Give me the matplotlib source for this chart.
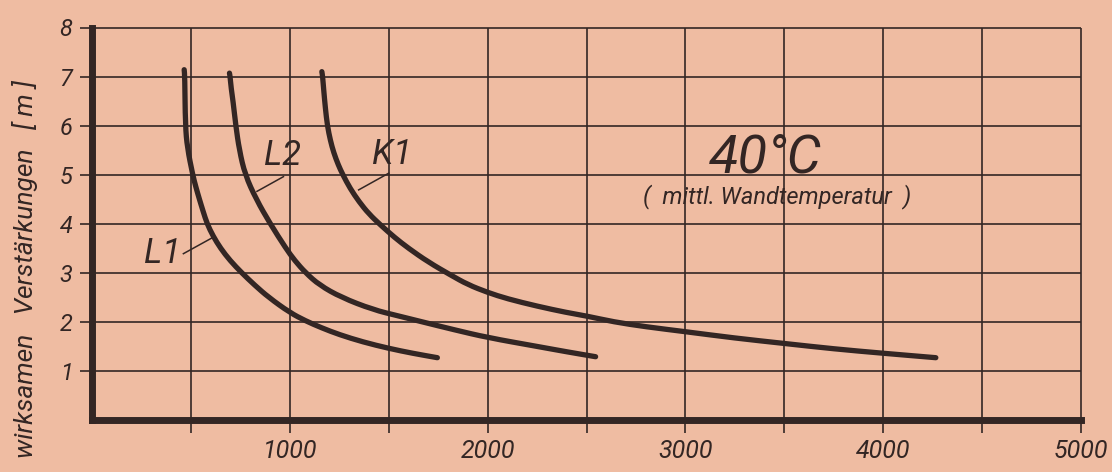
import matplotlib.pyplot as plt
from matplotlib.path import Path
from matplotlib.patches import PathPatch

plt.rcParams['font.family'] = ['Roboto', 'DejaVu Sans']
plt.rcParams['font.style'] = 'italic'

PAPER = '#efbca2'
INK = '#332624'

# curves: length of effective reinforcement [m] over x
l1_x = [466, 469, 472, 482, 509, 525, 543, 562, 582, 612, 650, 698, 757, 822, 893,
        1000, 1080, 1160, 1250, 1370, 1500, 1620, 1746]
l1_y = [7.14, 7.0, 6.0, 5.55, 5.0, 4.75, 4.5, 4.25, 4.0, 3.75, 3.5, 3.25, 3.0, 2.75, 2.5,
        2.19, 2.02, 1.88, 1.74, 1.59, 1.46, 1.36, 1.27]

l2_x = [695, 698, 704, 713, 727, 745, 774, 830, 901, 980, 1025, 1080, 1150, 1260,
        1420, 1550, 1670, 1830, 2000, 2250, 2400, 2546]
l2_y = [7.07, 7.0, 6.75, 6.5, 6.0, 5.5, 5.0, 4.5, 4.0, 3.5, 3.25, 3.0, 2.75, 2.5,
        2.25, 2.12, 2.0, 1.84, 1.68, 1.5, 1.39, 1.29]

k1_x = [1162, 1166, 1172, 1180, 1190, 1205, 1222, 1245, 1268, 1305, 1350, 1400,
        1460, 1530, 1600, 1700, 1815, 1900, 2000, 2100, 2250, 2400, 2500, 2637,
        2800, 3000, 3250, 3500, 3750, 4000, 4266]
k1_y = [7.1, 7.0, 6.7, 6.35, 6.0, 5.7, 5.45, 5.2, 5.0, 4.72, 4.45, 4.2,
        3.97, 3.72, 3.5, 3.22, 2.95, 2.76, 2.6, 2.47, 2.32, 2.19, 2.12, 2.0,
        1.9, 1.8, 1.67, 1.56, 1.45, 1.36, 1.27]

x_ticks = [500, 1000, 1500, 2000, 2500, 3000, 3500, 4000, 4500, 5000]
x_labels = ['', '1000', '', '2000', '', '3000', '', '4000', '', '5000']
y_ticks = [1, 2, 3, 4, 5, 6, 7, 8]
y_labels = ['1', '2', '3', '4', '5', '6', '7', '8']


def smooth_curve(xs, ys):
    # quadratic spline: each read point is a control point, joined through midpoints
    pts = list(zip(xs, ys))
    verts = [pts[0]]
    codes = [Path.MOVETO]
    mid = ((pts[0][0] + pts[1][0]) / 2, (pts[0][1] + pts[1][1]) / 2)
    verts.append(mid)
    codes.append(Path.LINETO)
    for i in range(1, len(pts) - 1):
        nxt = ((pts[i][0] + pts[i + 1][0]) / 2, (pts[i][1] + pts[i + 1][1]) / 2)
        verts += [pts[i], nxt]
        codes += [Path.CURVE3, Path.CURVE3]
    verts.append(pts[-1])
    codes.append(Path.LINETO)
    return Path(verts, codes)


fig = plt.figure(figsize=(11.12, 4.72), dpi=100, facecolor=PAPER)
ax = fig.add_axes([92 / 1112, 1 - 420 / 472, (1081 - 92) / 1112, (420 - 27.5) / 472])
ax.set_facecolor(PAPER)
ax.set_xlim(0, 5000)
ax.set_ylim(0, 8)

# grid drawn by hand so the edge lines are not clipped
ax.vlines(x_ticks, 0, 8, color=INK, lw=1.2, clip_on=False, zorder=1)
ax.hlines(y_ticks, 0, 5000, color=INK, lw=1.2, clip_on=False, zorder=1)

for xs, ys in [(l1_x, l1_y), (l2_x, l2_y), (k1_x, k1_y)]:
    ax.add_patch(PathPatch(smooth_curve(xs, ys), facecolor='none', edgecolor=INK,
                           lw=3.8, capstyle='round', joinstyle='round', zorder=3))

ax.set_xticks(x_ticks)
ax.set_xticklabels(x_labels)
ax.set_yticks(y_ticks)
ax.set_yticklabels(y_labels)
ax.tick_params(axis='both', direction='out', length=9, width=1.2, color=INK,
               labelcolor=INK)
ax.tick_params(axis='x', labelsize=18, pad=5)
ax.tick_params(axis='y', labelsize=17, pad=5)

for side in ['top', 'right']:
    ax.spines[side].set_visible(False)
for side in ['left', 'bottom']:
    ax.spines[side].set_linewidth(5)
    ax.spines[side].set_color(INK)
    ax.spines[side].set_zorder(4)

# curve names with leader lines
ax.text(354, 3.2, 'L1', fontsize=25, color=INK, ha='center', va='baseline')
ax.plot([462, 606], [3.39, 3.71], color=INK, lw=1.1)
ax.text(964, 5.2, 'L2', fontsize=25, color=INK, ha='center', va='baseline')
ax.plot([968, 834], [4.96, 4.66], color=INK, lw=1.1)
ax.text(1516, 5.22, 'K1', fontsize=25, color=INK, ha='center', va='baseline')
ax.plot([1500, 1348], [5.03, 4.69], color=INK, lw=1.1)

ax.text(3406, 5.02, '40°C', fontsize=39, color=INK, ha='center', va='baseline')
ax.text(3464, 4.41, '(  mittl. Wandtemperatur  )', fontsize=17, color=INK,
        ha='center', va='baseline')

fig.text(25 / 1112, 1 - 80 / 472, 'wirksamen   Verstärkungen   [ m ]',
         rotation=90, ha='center', va='top', fontsize=19, color=INK)

fig.savefig('out.png', dpi=100, facecolor=PAPER)
